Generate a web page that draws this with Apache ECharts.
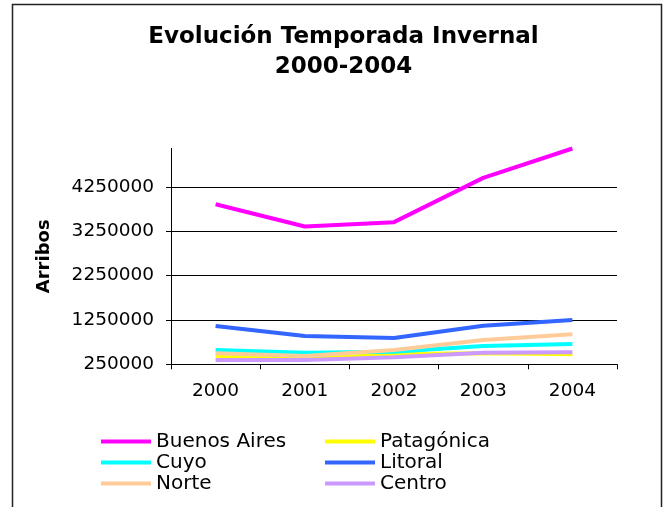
<!DOCTYPE html>
<html>
<head>
<meta charset="utf-8">
<script src="https://cdn.jsdelivr.net/npm/echarts@6/dist/echarts.min.js"></script>
<style>
  html, body { margin: 0; padding: 0; background: #fff; }
  #chart { width: 669px; height: 507px; }
</style>
</head>
<body>
<div id="chart"></div>
<script>
// data
const years = ["2000", "2001", "2002", "2003", "2004"]
const buenosAires = [3860000, 3358000, 3455000, 4453000, 5115000]
const patagonica = [444000, 363000, 482000, 498000, 475000]
const cuyo = [572000, 511000, 534000, 662000, 707000]
const litoral = [1113000, 887000, 842000, 1120000, 1248000]
const norte = [498000, 437000, 572000, 797000, 926000]
const centro = [347000, 347000, 408000, 511000, 520000]
const yTicks = [250000, 1250000, 2250000, 3250000, 4250000]

const seriesNames = ["Buenos Aires", "Patagónica", "Cuyo", "Litoral", "Norte", "Centro"]
const seriesData = [buenosAires, patagonica, cuyo, litoral, norte, centro]
const colors = ["#FF00FF", "#FFFF00", "#00FFFF", "#3366FF", "#FFCC99", "#CC99FF"]

const font = "DejaVu Sans"
const chart = echarts.init(document.getElementById("chart"))

const legendBase = {
  orient: "vertical",
  top: 426,
  itemGap: 0,
  itemWidth: 50,
  itemHeight: 4,
  icon: "rect",
  selectedMode: false,
  textStyle: { fontFamily: font, fontSize: 20, lineHeight: 21, color: "#000" },
}

const option = {
  animation: false,
  backgroundColor: "#fff",
  title: {
    text: "Evolución Temporada Invernal\n2000-2004",
    left: 343.5,
    top: 22,
    padding: 0,
    textAlign: "center",
    textStyle: { fontFamily: font, fontWeight: "bold", fontSize: 23, lineHeight: 30, color: "#000" },
  },
  graphic: [
    {
      type: "rect",
      silent: true,
      z: -1,
      shape: { x: 12.5, y: 4.5, width: 649, height: 520 },
      style: { fill: "none", stroke: "#222", lineWidth: 1.5 },
    },
  ],
  legend: [
    { ...legendBase, left: 96, data: ["Buenos Aires", "Cuyo", "Norte"] },
    { ...legendBase, left: 320, data: ["Patagónica", "Litoral", "Centro"] },
  ],
  grid: {
    left: 171,
    right: 52,
    top: 148.3,
    bottom: 142.7,
    containLabel: false,
    outerBoundsMode: "none",
  },
  xAxis: {
    type: "category",
    data: years,
    boundaryGap: true,
    axisLine: { lineStyle: { color: "#000", width: 1 } },
    axisTick: { show: true, length: 5, lineStyle: { color: "#000" } },
    axisLabel: { margin: 17, fontFamily: font, fontSize: 18.5, color: "#000" },
    splitLine: { show: false },
  },
  yAxis: {
    type: "value",
    min: 250000,
    max: 5120000,
    name: "Arribos",
    nameLocation: "middle",
    nameRotate: 90,
    nameGap: 118,
    nameTextStyle: { fontFamily: font, fontWeight: "bold", fontSize: 18, color: "#000" },
    axisLine: { show: true, lineStyle: { color: "#000", width: 1 } },
    axisTick: { show: true, length: 5, customValues: yTicks, lineStyle: { color: "#000" } },
    axisLabel: {
      customValues: yTicks,
      margin: 17,
      fontFamily: font,
      fontSize: 18.5,
      color: "#000",
      formatter: (v) => String(v),
    },
    splitLine: { show: true, lineStyle: { color: "#000", width: 1 } },
  },
  series: seriesNames.map((name, i) => ({
    name: name,
    type: "line",
    data: seriesData[i],
    symbol: "none",
    lineStyle: { width: 4, color: colors[i] },
    itemStyle: { color: colors[i] },
    emphasis: { disabled: true },
  })),
}

chart.setOption(option)
</script>
</body>
</html>
